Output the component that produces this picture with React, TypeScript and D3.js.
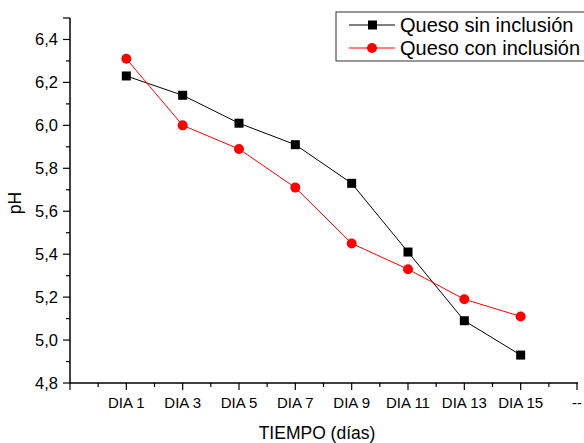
import React from "react";
import * as d3 from "d3";

const categories = ["DIA 1", "DIA 3", "DIA 5", "DIA 7", "DIA 9", "DIA 11", "DIA 13", "DIA 15"];
const sinInclusion = [6.23, 6.14, 6.01, 5.91, 5.73, 5.41, 5.09, 4.93];
const conInclusion = [6.31, 6.0, 5.89, 5.71, 5.45, 5.33, 5.19, 5.11];
const yTicks = [4.8, 5.0, 5.2, 5.4, 5.6, 5.8, 6.0, 6.2, 6.4];
const seriesNames = ["Queso sin inclusión", "Queso con inclusión"];

const W = 584, H = 443;
const left = 70, right = 577, top = 18, bottom = 383;
const font = "'Liberation Sans', Arial, sans-serif";

export default function App() {
  const x = d3.scaleLinear().domain([0, 9]).range([left, right]);
  const y = d3.scaleLinear().domain([4.8, 6.5]).range([bottom, top]);
  const line = d3.line<number>().x((_, i) => x(i + 1)).y((v) => y(v));
  const fmt = (v: number) => v.toFixed(1).replace(".", ",");
  const minorY = d3.range(4.9, 6.5, 0.2);
  const majorX = d3.range(0, 10);
  const minorX = d3.range(0.5, 9, 1);
  return (
    <svg width={W} height={H} style={{ position: "absolute", left: 0, top: 0 }} fontFamily={font}>
      <rect width={W} height={H} fill="#fff" />
      {/* axes */}
      <line x1={left} x2={left} y1={top} y2={bottom} stroke="#000" strokeWidth={1.5} />
      <line x1={left} x2={right + 1} y1={bottom} y2={bottom} stroke="#000" strokeWidth={1.5} />
      {yTicks.map((t) => (
        <g key={t}>
          <line x1={left - 7} x2={left} y1={y(t)} y2={y(t)} stroke="#000" strokeWidth={1.2} />
          <text x={58} y={y(t)} dy="0.36em" textAnchor="end" fontSize={16.5}>{fmt(t)}</text>
        </g>
      ))}
      {minorY.map((t) => (
        <line key={t} x1={left - 4} x2={left} y1={y(t)} y2={y(t)} stroke="#000" strokeWidth={1.2} />
      ))}
      <line x1={left - 7} x2={left} y1={top} y2={top} stroke="#000" strokeWidth={1.2} />
      {majorX.map((i) => (
        <line key={i} x1={x(i)} x2={x(i)} y1={bottom} y2={bottom + 7} stroke="#000" strokeWidth={1.2} />
      ))}
      {minorX.map((i) => (
        <line key={i} x1={x(i)} x2={x(i)} y1={bottom} y2={bottom + 4} stroke="#000" strokeWidth={1.2} />
      ))}
      {categories.map((c, i) => (
        <text key={c} x={x(i + 1)} y={408} textAnchor="middle" fontSize={15}>{c}</text>
      ))}
      <text x={x(9)} y={408} textAnchor="middle" fontSize={15}>--</text>
      <text x={317} y={439} textAnchor="middle" fontSize={17.5}>TIEMPO (días)</text>
      <text transform={`translate(21,203) rotate(-90)`} textAnchor="middle" fontSize={17.5}>pH</text>
      {/* series */}
      <path d={line(sinInclusion) || ""} fill="none" stroke="#000" strokeWidth={1} />
      <path d={line(conInclusion) || ""} fill="none" stroke="#f00" strokeWidth={1} />
      {sinInclusion.map((v, i) => (
        <rect key={i} x={x(i + 1) - 4.5} y={y(v) - 4.5} width={9} height={9} fill="#000" />
      ))}
      {conInclusion.map((v, i) => (
        <circle key={i} cx={x(i + 1)} cy={y(v)} r={5} fill="#f00" />
      ))}
      {/* legend */}
      <rect x={336} y={12} width={260} height={49} fill="#fff" stroke="#333" strokeWidth={1} />
      <line x1={349} x2={395} y1={25} y2={25} stroke="#000" strokeWidth={1} />
      <rect x={368} y={20.5} width={9} height={9} fill="#000" />
      <text x={400} y={25} dy="0.36em" fontSize={20}>{seriesNames[0]}</text>
      <line x1={349} x2={395} y1={48} y2={48} stroke="#f00" strokeWidth={1} />
      <circle cx={372} cy={48} r={5} fill="#f00" />
      <text x={400} y={48} dy="0.36em" fontSize={20}>{seriesNames[1]}</text>
    </svg>
  );
}
